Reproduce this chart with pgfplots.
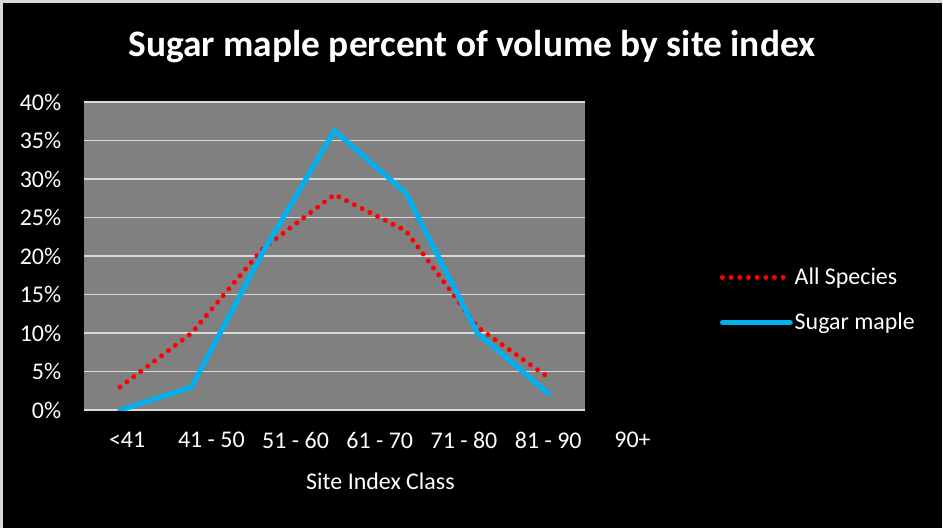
\documentclass[border=0pt]{standalone}
\usepackage{pgfplots}
\pgfplotsset{compat=1.18}
\usepackage{fontspec}
\setmainfont{Carlito}
\definecolor{plotgray}{HTML}{808080}
\definecolor{gridgray}{HTML}{D9D9D9}
\definecolor{smblue}{HTML}{00B0F0}
\begin{document}
\begin{tikzpicture}
\fill[black] (0,0) rectangle (943pt,528pt);
\draw[gridgray, line width=3pt] (0,0) -- (0,528pt) -- (943pt,528pt);
\node[white, font=\fontsize{37.5}{42}\selectfont\bfseries] at (472pt,483pt) {Sugar maple percent of volume by site index};
\begin{axis}[
    at={(83pt,118pt)}, anchor=south west,
    width=502pt, height=309pt, scale only axis,
    axis background/.style={fill=plotgray},
    axis line style={draw=none},
    xmin=-0.5, xmax=6.5, ymin=0, ymax=40,
    xtick=\empty,
    ytick={0,5,...,40},
    yticklabel={\pgfmathprintnumber{\tick}\%},
    ymajorgrids, grid style={gridgray, line width=1.5pt},
    major tick length=0pt,
    tick label style={white, font=\fontsize{24}{28}\selectfont, inner sep=0pt},
    yticklabel style={xshift=-23pt},
    /pgf/number format/assume math mode=true,
    xlabel={Site Index Class},
    xlabel style={white, font=\fontsize{24}{28}\selectfont, at={(axis description cs:0.592,-0.23)}, anchor=center},
    legend style={at={(1.27,0.358)}, anchor=west, fill=black, draw=none, text=white,
        font=\fontsize{24}{28}\selectfont, row sep=23pt, inner sep=0pt, cells={anchor=west}},
    legend image code/.code={\draw[#1] (0pt,0pt) -- (68pt,0pt);},
]
\addplot[red, line width=5pt, line cap=round, dash pattern=on 0pt off 8.7pt] table {
x y
0 3.0
1 10.0
2 21.0
3 28.0
4 23.3
5 10.8
6 4.2
};
\addlegendentry{All Species}
\addplot[smblue, line width=5pt, line cap=round, line join=round] table {
x y
0 0.0
1 3.0
2 20.5
3 36.3
4 28.2
5 10.0
6 2.1
};
\addlegendentry{Sugar maple}
\end{axis}
% category labels, spaced as in the original chart
\begin{axis}[
    at={(83pt,118pt)}, anchor=south west,
    width=588pt, height=309pt, scale only axis,
    axis line style={draw=none},
    xmin=83, xmax=671, ymin=0, ymax=1,
    ytick=\empty,
    xtick={126,210.5,295,379.5,464,548.5,633},
    xticklabels={<41, 41 - 50, 51 - 60, 61 - 70, 71 - 80, 81 - 90, 90+},
    major tick length=0pt,
    tick label style={white, font=\fontsize{24}{28}\selectfont, inner sep=0pt},
    xticklabel style={yshift=-22pt},
]
\end{axis}
\end{tikzpicture}
\end{document}
